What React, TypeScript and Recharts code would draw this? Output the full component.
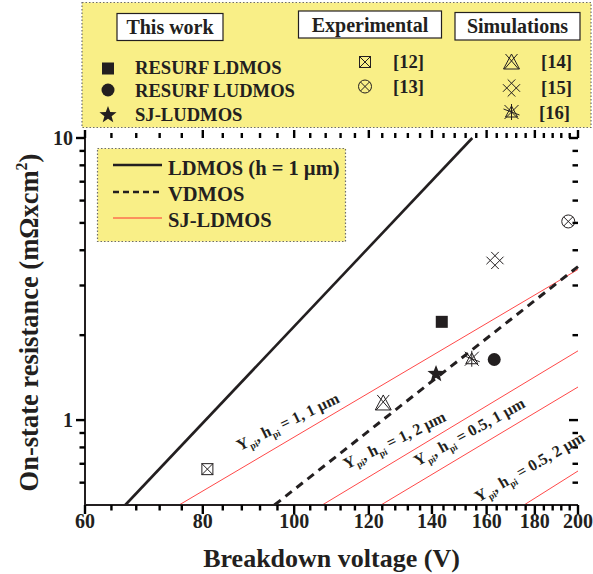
import React from 'react';
import { ComposedChart, Line, Scatter, XAxis, YAxis, ReferenceDot } from 'recharts';

// ---------- data ----------
const xMajorTicks = [60, 80, 100, 120, 140, 160, 180, 200];
const xMinorTicks = [64, 68, 72, 76, 84, 88, 92, 96, 104, 108, 112, 116, 124, 128, 132, 136, 144, 148, 152, 156, 164, 168, 172, 176, 184, 188, 192, 196];
const yMajorTicks = [1, 10];
const yMinorTicks = [0.6, 0.7, 0.8, 0.9, 2, 3, 4, 5, 6, 7, 8, 9];
const xDomain = [60, 200];
const yDomain = [0.5, 10];

const ldmosLine = [{ x: 66.2, y: 0.5 }, { x: 154.5, y: 10 }];
const vdmosLine = [{ x: 95.3, y: 0.5 }, { x: 200, y: 3.5 }];
const sj11Line = [{ x: 75.5, y: 0.5 }, { x: 200, y: 3.42 }];
const sj12Line = [{ x: 107.1, y: 0.5 }, { x: 200, y: 1.76 }];
const sj051Line = [{ x: 123.6, y: 0.5 }, { x: 200, y: 1.31 }];
const sj052Line = [{ x: 175.3, y: 0.5 }, { x: 200, y: 0.66 }];

const resurfLdmos = [{ x: 143.4, y: 2.23 }];
const resurfLudmos = [{ x: 163, y: 1.64 }];
const sjLudmos = [{ x: 141.4, y: 1.47 }];
const ref12 = [{ x: 80.9, y: 0.67 }];
const ref13 = [{ x: 195.3, y: 5.06 }];
const ref14 = [{ x: 124.3, y: 1.15 }];
const ref15 = [{ x: 163.3, y: 3.68 }];
const ref16 = [{ x: 154.3, y: 1.65 }];

const lineLabelValues = ['1, 1 \u00b5m', '1, 2 \u00b5m', '0.5, 1 \u00b5m', '0.5, 2 \u00b5m'];
const lineLabelX = [98.4, 127.7, 153.3, 177.6];
const lineLabelY = [0.99, 0.85, 0.91, 0.684];
const lineLabelAngles = [-26, -26, -29, -30];

// ---------- style ----------
const FONT = '"Liberation Serif", "Times New Roman", serif';
const INK = '#231f20';
const TICK = '#000000';
const RED = '#ff3333';
const YELLOW = '#f9ef87';

const xAll = [...xMajorTicks, ...xMinorTicks].sort((a, b) => a - b);
const yAll = [...yMajorTicks, ...yMinorTicks].sort((a, b) => a - b);

// tick marks, drawn as reference dots placed by the axis scales
const BottomMajor = (p: any) => <rect x={Number(p.cx) - 1.2} y={Number(p.cy)} width={2.4} height={9} fill={TICK} />;
const BottomMinor = (p: any) => <rect x={Number(p.cx) - 1.2} y={Number(p.cy)} width={2.4} height={5.5} fill={TICK} />;
const TopMajor = (p: any) => <rect x={Number(p.cx) - 1.2} y={Number(p.cy) - 8} width={2.4} height={8} fill={TICK} />;
const TopMinor = (p: any) => <rect x={Number(p.cx) - 1.2} y={Number(p.cy) - 5} width={2.4} height={5} fill={TICK} />;
const LeftMajor = (p: any) => <rect x={Number(p.cx) - 9} y={Number(p.cy) - 1.2} width={9} height={2.4} fill={TICK} />;
const LeftMinor = (p: any) => <rect x={Number(p.cx) - 5.5} y={Number(p.cy) - 1.2} width={5.5} height={2.4} fill={TICK} />;
const RightMajor = (p: any) => <rect x={Number(p.cx) - 9} y={Number(p.cy) - 1.2} width={9} height={2.4} fill={TICK} />;
const RightMinor = (p: any) => <rect x={Number(p.cx) - 5.5} y={Number(p.cy) - 1.2} width={5.5} height={2.4} fill={TICK} />;

const BottomLabel = (p: any) => {
  const v = p.payload.value;
  return (
    <text x={Number(p.x)} y={Number(p.y) + 23} textAnchor="middle" fontFamily={FONT} fontWeight="bold" fontSize={20} fill={INK}>
      {v}
    </text>
  );
};
const LeftLabel = (p: any) => {
  const v = p.payload.value;
  return (
    <text x={Number(p.x) - 12} y={Number(p.y) + 7} textAnchor="end" fontFamily={FONT} fontWeight="bold" fontSize={20} fill={INK}>
      {v}
    </text>
  );
};

// ---------- marker shapes ----------
const sw = { stroke: INK, strokeWidth: 1, fill: 'none' };
const SquareFilled = (p: any) => <rect x={p.cx - 6} y={p.cy - 6} width={12} height={12} fill={INK} />;
const CircleFilled = (p: any) => <circle cx={p.cx} cy={p.cy} r={6.5} fill={INK} />;
const starPath = (cx: number, cy: number, R: number) => {
  const r = R * 0.42;
  let d = '';
  for (let i = 0; i < 10; i++) {
    const a = -Math.PI / 2 + (i * Math.PI) / 5;
    const rr = i % 2 === 0 ? R : r;
    d += (i === 0 ? 'M' : 'L') + (cx + rr * Math.cos(a)).toFixed(2) + ',' + (cy + rr * Math.sin(a)).toFixed(2);
  }
  return d + 'Z';
};
const StarFilled = (p: any) => <path d={starPath(p.cx, p.cy + 1, 9)} fill={INK} />;
const BoxX = (p: any) => (
  <g {...sw}>
    <rect x={p.cx - 5.5} y={p.cy - 5.5} width={11} height={11} />
    <line x1={p.cx - 5.5} y1={p.cy - 5.5} x2={p.cx + 5.5} y2={p.cy + 5.5} />
    <line x1={p.cx + 5.5} y1={p.cy - 5.5} x2={p.cx - 5.5} y2={p.cy + 5.5} />
  </g>
);
const CircleX = (p: any) => (
  <g {...sw}>
    <circle cx={p.cx} cy={p.cy} r={6.5} />
    <line x1={p.cx - 4.6} y1={p.cy - 4.6} x2={p.cx + 4.6} y2={p.cy + 4.6} />
    <line x1={p.cx + 4.6} y1={p.cy - 4.6} x2={p.cx - 4.6} y2={p.cy + 4.6} />
  </g>
);
const TriX = (p: any) => (
  <g {...sw}>
    <path d={`M${p.cx},${p.cy - 8} L${p.cx - 8},${p.cy + 7} L${p.cx + 8},${p.cy + 7} Z`} />
    <line x1={p.cx - 6} y1={p.cy - 8} x2={p.cx + 7} y2={p.cy + 7} />
    <line x1={p.cx + 6} y1={p.cy - 8} x2={p.cx - 7} y2={p.cy + 7} />
  </g>
);
const DoubleX = (p: any) => {
  const c = p.cx;
  const d = p.cy;
  const k = 0.95;
  return (
    <g {...sw}>
      <line x1={c - 9 * k} y1={d - 4 * k} x2={c + 4 * k} y2={d + 9 * k} />
      <line x1={c - 4 * k} y1={d - 9 * k} x2={c + 9 * k} y2={d + 4 * k} />
      <line x1={c - 4 * k} y1={d + 9 * k} x2={c + 9 * k} y2={d - 4 * k} />
      <line x1={c - 9 * k} y1={d + 4 * k} x2={c + 4 * k} y2={d - 9 * k} />
    </g>
  );
};
const BurstX = (p: any) => (
  <g {...sw}>
    <line x1={p.cx - 7} y1={p.cy - 7} x2={p.cx + 7} y2={p.cy + 7} />
    <line x1={p.cx + 7} y1={p.cy - 7} x2={p.cx - 7} y2={p.cy + 7} />
    <line x1={p.cx} y1={p.cy - 8} x2={p.cx} y2={p.cy + 8} />
    <line x1={p.cx - 8} y1={p.cy - 3} x2={p.cx + 8} y2={p.cy + 3} />
    <path d={`M${p.cx},${p.cy - 6} L${p.cx - 6},${p.cy + 5} L${p.cx + 6},${p.cy + 5} Z`} />
  </g>
);

const makeLineLabel = (i: number) => (p: any) => (
  <text
    transform={`translate(${p.cx},${p.cy}) rotate(${lineLabelAngles[i]})`}
    textAnchor="middle"
    dy="0.35em"
    fontFamily={FONT}
    fontWeight="bold"
    fontSize={16}
    fill={INK}
  >
    Y<tspan fontSize={9.5} dy={4}>pi</tspan>
    <tspan dy={-4}>, h</tspan>
    <tspan fontSize={9.5} dy={4}>pi</tspan>
    <tspan dy={-4}>{' = ' + lineLabelValues[i]}</tspan>
  </text>
);

const XTitle = (p: any) => {
  const vb = p.viewBox;
  return (
    <text x={vb.x + vb.width / 2} y={vb.y + 62} textAnchor="middle" fontFamily={FONT} fontWeight="bold" fontSize={26} fill={INK}>
      Breakdown voltage (V)
    </text>
  );
};
const YTitle = (p: any) => {
  const vb = p.viewBox;
  const cx = 38;
  const cy = vb.y + vb.height / 2 + 1;
  return (
    <text transform={`translate(${cx},${cy}) rotate(-90)`} textAnchor="middle" fontFamily={FONT} fontWeight="bold" fontSize={26.5} fill={INK}>
      On-state resistance (m{'\u03a9'}xcm<tspan fontSize={16} dy={-11}>2</tspan>
      <tspan dy={11}>)</tspan>
    </text>
  );
};

const T = (props: any) => <text fontFamily={FONT} fontWeight="bold" fill={INK} {...props} />;

const Legends = () => (
  <svg width={593} height={574} style={{ position: 'absolute', left: 0, top: 0 }}>
    {/* top legend */}
    <rect x={82} y={2.5} width={509} height={125} fill={YELLOW} stroke="#6d6d6d" strokeWidth={1.2} strokeDasharray="1.5 2" />
    <rect x={117} y={13.5} width={106} height={27} fill="#fff" stroke={INK} strokeWidth={1.2} />
    <T x={170} y={34} fontSize={20} textAnchor="middle">This work</T>
    <rect x={298.5} y={11} width={143} height={27} fill="#fff" stroke={INK} strokeWidth={1.2} />
    <T x={370} y={31.5} fontSize={20} textAnchor="middle">Experimental</T>
    <rect x={455} y={12.5} width={125} height={27.5} fill="#fff" stroke={INK} strokeWidth={1.2} />
    <T x={517.5} y={33} fontSize={20} textAnchor="middle">Simulations</T>

    <SquareFilled cx={108} cy={68.5} />
    <T x={135} y={74} fontSize={18.6}>RESURF LDMOS</T>
    <CircleFilled cx={108} cy={90} />
    <T x={135} y={96.5} fontSize={18.6}>RESURF LUDMOS</T>
    <StarFilled cx={108} cy={114} />
    <T x={135} y={120.5} fontSize={18.6}>SJ-LUDMOS</T>

    <BoxX cx={365} cy={62} />
    <T x={393} y={68} fontSize={18.6}>[12]</T>
    <CircleX cx={365} cy={86.5} />
    <T x={393} y={92.5} fontSize={18.6}>[13]</T>

    <TriX cx={511.5} cy={62} />
    <T x={541} y={68} fontSize={18.6}>[14]</T>
    <DoubleX cx={511.5} cy={88} />
    <T x={541} y={94} fontSize={18.6}>[15]</T>
    <BurstX cx={511.5} cy={112} />
    <T x={539} y={118.5} fontSize={18.6}>[16]</T>

    {/* inner legend */}
    <rect x={97.5} y={148.5} width={248} height={93} fill={YELLOW} stroke="#6d6d6d" strokeWidth={1.2} strokeDasharray="1.5 2" />
    <line x1={113} x2={162} y1={165} y2={165} stroke={INK} strokeWidth={2.6} />
    <T x={168} y={174.5} fontSize={20.5}>LDMOS (h = 1 {'\u00b5'}m)</T>
    <line x1={113} x2={162} y1={192} y2={192} stroke={INK} strokeWidth={2.6} strokeDasharray="6 4" />
    <T x={168} y={200.5} fontSize={20.5}>VDMOS</T>
    <line x1={113} x2={162} y1={218} y2={218} stroke={RED} strokeWidth={1} />
    <T x={168} y={226.5} fontSize={20.5}>SJ-LDMOS</T>
  </svg>
);

const axisLineStyle = { stroke: INK, strokeWidth: 2 };

export default function App() {
  return (
    <div style={{ position: 'relative', width: 593, height: 574, background: '#fff' }}>
      <style>{'body{margin:0}'}</style>
      <Legends />
      <ComposedChart width={593} height={574} margin={{ top: 138, right: 15, bottom: 0, left: 0 }}>
        <XAxis
          xAxisId={0}
          dataKey="x"
          type="number"
          scale="log"
          domain={xDomain}
          ticks={xMajorTicks}
          interval={0}
          tickSize={0}
          tickMargin={0}
          tick={BottomLabel}
          tickLine={false}
          axisLine={axisLineStyle}
          height={69}
          label={<XTitle />}
        />
        <XAxis
          xAxisId="top"
          orientation="top"
          dataKey="x"
          type="number"
          scale="log"
          domain={xDomain}
          ticks={xMajorTicks}
          tick={false}
          tickLine={false}
          axisLine={axisLineStyle}
          height={0}
        />
        <YAxis
          yAxisId={0}
          dataKey="y"
          type="number"
          scale="log"
          domain={yDomain}
          ticks={yMajorTicks}
          interval={0}
          tickSize={0}
          tickMargin={0}
          tick={LeftLabel}
          tickLine={false}
          axisLine={axisLineStyle}
          width={85}
          label={<YTitle />}
        />
        <YAxis
          yAxisId="right"
          orientation="right"
          dataKey="y"
          type="number"
          scale="log"
          domain={yDomain}
          ticks={yMajorTicks}
          tick={false}
          tickLine={false}
          axisLine={axisLineStyle}
          width={0}
        />

        <Line data={sj11Line} dataKey="y" stroke={RED} strokeWidth={0.9} dot={false} isAnimationActive={false} />
        <Line data={sj12Line} dataKey="y" stroke={RED} strokeWidth={0.9} dot={false} isAnimationActive={false} />
        <Line data={sj051Line} dataKey="y" stroke={RED} strokeWidth={0.9} dot={false} isAnimationActive={false} />
        <Line data={sj052Line} dataKey="y" stroke={RED} strokeWidth={0.9} dot={false} isAnimationActive={false} />
        <Line data={ldmosLine} dataKey="y" stroke={INK} strokeWidth={2.6} dot={false} isAnimationActive={false} />
        <Line data={vdmosLine} dataKey="y" stroke={INK} strokeWidth={3} strokeDasharray="8 6" dot={false} isAnimationActive={false} />

        <Scatter data={ref12} dataKey="y" shape={BoxX} isAnimationActive={false} />
        <Scatter data={ref13} dataKey="y" shape={CircleX} isAnimationActive={false} />
        <Scatter data={ref14} dataKey="y" shape={TriX} isAnimationActive={false} />
        <Scatter data={ref15} dataKey="y" shape={DoubleX} isAnimationActive={false} />
        <Scatter data={ref16} dataKey="y" shape={BurstX} isAnimationActive={false} />
        <Scatter data={resurfLdmos} dataKey="y" shape={SquareFilled} isAnimationActive={false} />
        <Scatter data={resurfLudmos} dataKey="y" shape={CircleFilled} isAnimationActive={false} />
        <Scatter data={sjLudmos} dataKey="y" shape={StarFilled} isAnimationActive={false} />

        {xAll.map((v) => (
          <ReferenceDot key={'b' + v} x={v} y={yDomain[0]} ifOverflow="visible" shape={xMajorTicks.includes(v) ? BottomMajor : BottomMinor} />
        ))}
        {xAll.map((v) => (
          <ReferenceDot key={'t' + v} x={v} y={yDomain[1]} ifOverflow="visible" shape={xMajorTicks.includes(v) ? TopMajor : TopMinor} />
        ))}
        {yAll.map((v) => (
          <ReferenceDot key={'l' + v} x={xDomain[0]} y={v} ifOverflow="visible" shape={yMajorTicks.includes(v) ? LeftMajor : LeftMinor} />
        ))}
        {yAll.map((v) => (
          <ReferenceDot key={'r' + v} x={xDomain[1]} y={v} ifOverflow="visible" shape={yMajorTicks.includes(v) ? RightMajor : RightMinor} />
        ))}

        {lineLabelValues.map((v, i) => (
          <ReferenceDot key={v} x={lineLabelX[i]} y={lineLabelY[i]} ifOverflow="visible" shape={makeLineLabel(i)} />
        ))}
      </ComposedChart>
    </div>
  );
}
